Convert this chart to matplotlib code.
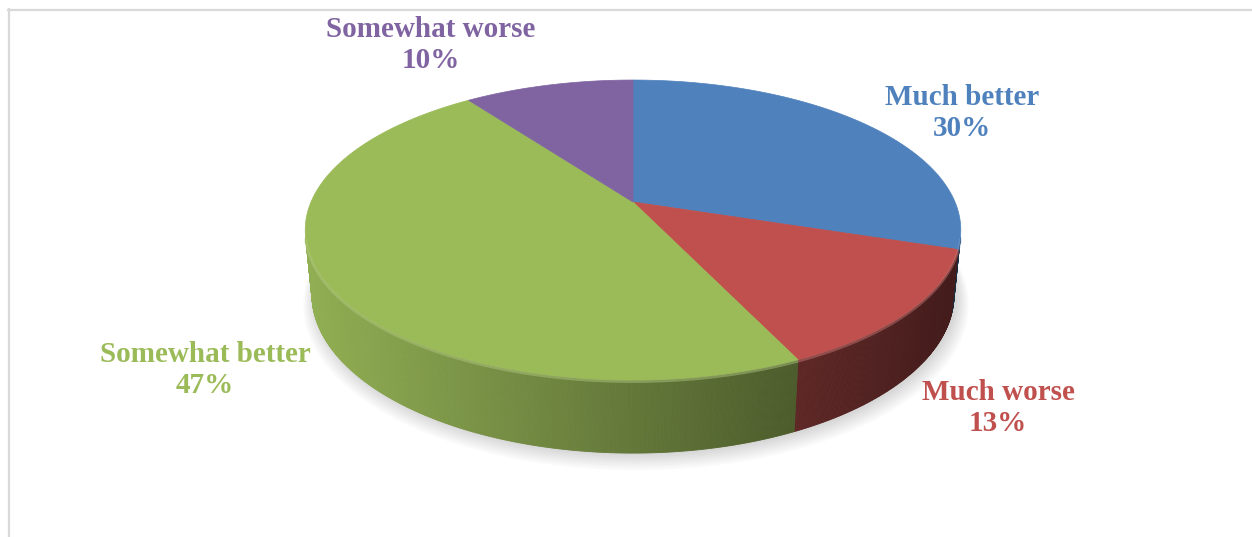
import numpy as np
import matplotlib.pyplot as plt
from matplotlib.patches import Polygon
from matplotlib.lines import Line2D
from matplotlib.colors import to_rgb

# survey answers and their shares (percent)
categories = ["Much better", "Much worse", "Somewhat better", "Somewhat worse"]
shares = [30, 13, 47, 10]
colors = ["#4F81BD", "#C0504D", "#9BBB59", "#8064A2"]

# where each label block sits (pixel coords, y down)
label_xy = [(962, 113), (998, 408), (205, 370), (431, 45)]

# 3d pie camera setup: circle of radius 1 seen from above at angle PHI
CX, CY = 633, 202
PHI = np.radians(26.2)
DIST = 4.80
FOC = 1574.0
XSCALE = 0.982
THICK = 0.219
cp, sp = np.cos(PHI), np.sin(PHI)


def project(x, y, z):
    depth = DIST + y * cp - z * sp
    sx = CX + XSCALE * FOC * x / depth
    sy = CY - FOC * (y * sp + z * cp) / depth
    return sx, sy


def shade(col, f):
    r, g, b = to_rgb(col)
    return (r * f, g * f, b * f)


fig = plt.figure(figsize=(12.52, 5.37), dpi=100)
ax = fig.add_axes([0, 0, 1, 1])
ax.set_xlim(0, 1252)
ax.set_ylim(537, 0)
ax.axis("off")

# chart frame (light gray, runs off the right and bottom)
fig.add_artist(Line2D([8 / 1252, 1], [1 - 9.5 / 537, 1 - 9.5 / 537],
                      color="#d9d9d9", lw=1.6, transform=fig.transFigure))
fig.add_artist(Line2D([8.5 / 1252, 8.5 / 1252], [0, 1 - 9 / 537],
                      color="#d9d9d9", lw=1.6, transform=fig.transFigure))

total = float(sum(shares))
bounds = 90 - 360 * np.concatenate([[0], np.cumsum(shares)]) / total  # degrees, clockwise from top

# soft shadow under the pie
tt = np.linspace(0, 2 * np.pi, 300)
for k in range(8):
    grow = 1.0 + 0.005 * k
    bx, by = project(grow * np.cos(tt), grow * np.sin(tt), -THICK)
    ax.add_patch(Polygon(np.column_stack([bx + 3, by + 2 + k]), closed=True,
                         color="#000000", alpha=0.018, lw=0, zorder=1))

# side walls: only the part facing the camera
vis_lo = -180 + np.degrees(np.arcsin(1 / (DIST * cp)))
vis_hi = -np.degrees(np.arcsin(1 / (DIST * cp)))
xl, _ = project(-1, 0, 0)
xr, _ = project(1, 0, 0)
for i, col in enumerate(colors):
    a0, a1 = bounds[i + 1], bounds[i]
    for off in (0, -360):
        lo, hi = max(a0 + off, vis_lo), min(a1 + off, vis_hi)
        if hi <= lo:
            continue
        ang = np.radians(np.linspace(lo, hi, max(3, int((hi - lo) * 3))))
        for j in range(len(ang) - 1):
            t0, t1 = ang[j], ang[j + 1]
            p = [project(np.cos(t0), np.sin(t0), 0), project(np.cos(t1), np.sin(t1), 0),
                 project(np.cos(t1), np.sin(t1), -THICK), project(np.cos(t0), np.sin(t0), -THICK)]
            mx = 0.5 * (p[0][0] + p[1][0])
            t = (mx - xl) / (xr - xl)
            f = 0.93 - 0.58 * t
            ax.add_patch(Polygon(p, closed=True, facecolor=shade(col, f),
                                 edgecolor=shade(col, f), lw=0.6, zorder=2))

# top faces
for i, col in enumerate(colors):
    a0, a1 = bounds[i + 1], bounds[i]
    ang = np.radians(np.linspace(a1, a0, 200))
    sx, sy = project(np.cos(ang), np.sin(ang), 0)
    pts = np.vstack([[project(0, 0, 0)], np.column_stack([sx, sy])])
    ax.add_patch(Polygon(pts, closed=True, facecolor=col, edgecolor=col,
                         lw=0.5, zorder=3))

# light bevel along the front rim
for i, col in enumerate(colors):
    a0, a1 = bounds[i + 1], bounds[i]
    for off in (0, -360):
        lo, hi = max(a0 + off, vis_lo), min(a1 + off, vis_hi)
        if hi <= lo:
            continue
        ang = np.radians(np.linspace(lo, hi, 100))
        sx, sy = project(np.cos(ang), np.sin(ang), 0)
        r, g, b = to_rgb(col)
        light = (r + (1 - r) * 0.25, g + (1 - g) * 0.25, b + (1 - b) * 0.25)
        ax.plot(sx, sy + 1.5, color=light, lw=2.0, alpha=0.45, zorder=4,
                solid_capstyle="butt")

# data labels
for name, val, col, (lx, ly) in zip(categories, shares, colors, label_xy):
    ax.text(lx, ly, f"{name}\n{val}%", color=col, ha="center", va="center",
            fontsize=21, fontweight="bold", family="Liberation Serif",
            linespacing=1.16, zorder=5)

fig.savefig("out.png", dpi=100)
